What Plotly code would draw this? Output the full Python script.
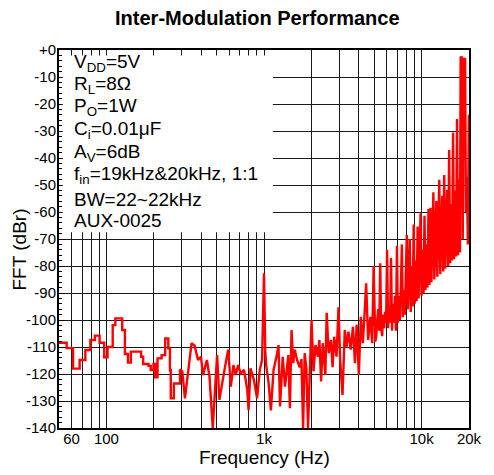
import plotly.graph_objects as go

# ---- data ----
freq_low = [50, 55.9, 61.4, 67.6, 73.5, 79.1, 84.5, 90.5, 96.8, 101.6, 109.6, 113.9,
            126, 131, 137, 143, 166, 171, 185, 191, 199, 204, 211, 224, 236, 244,
            247, 253, 256, 265, 268, 281, 293]
dbr_low = [-108.4, -110.4, -118, -114.8, -111.1, -107.4, -105.8, -108.4, -113.8, -110,
           -101.9, -99.4, -103.7, -112.6, -115.8, -111.7, -113.6, -116.3, -117, -118.5,
           -116.3, -121.2, -114.2, -113, -106.8, -106.8, -110.5, -118.6, -129, -129,
           -123.5, -123.5, -118.2]

freq_high = [293, 303, 315, 330, 347, 363, 381, 398, 410, 434, 451, 473, 504, 521, 547,
             573, 593, 616, 640, 662, 685, 711, 747, 783, 798, 821, 863, 904, 940, 972,
             1000, 1019, 1034, 1070, 1106, 1150, 1206, 1236, 1264, 1315, 1359, 1427,
             1460, 1496, 1533, 1569, 1624, 1686, 1728, 1771, 1812, 1857, 1903, 1948,
             2003, 2061, 2122, 2196, 2247, 2303, 2360, 2450, 2500, 2572, 2659, 2725,
             2788, 2886, 2971, 3044, 3150, 3257, 3337, 3435, 3550, 3670, 3777, 3871,
             4000, 4117, 4238, 4361, 4449, 4580, 4738, 4858, 4964,
             5084, 5158, 5233, 5309, 5386, 5464, 5543, 5623, 5705, 5788, 5872, 5957,
             6043, 6131, 6220, 6310, 6402, 6494, 6589, 6683, 6780, 6879, 6978, 7079,
             7182, 7286, 7392, 7499, 7608, 7718, 7830, 7943, 8058, 8175, 8294, 8414,
             8536, 8660, 8785, 8913, 9042, 9173, 9306, 9441, 9578, 9716, 9857, 10000,
             10145, 10292, 10441, 10593, 10746, 10902, 11060, 11220, 11383, 11548,
             11715, 11885, 12057, 12232, 12409, 12589, 12772, 12957, 13145, 13335,
             13529, 13725, 13924, 14125, 14330, 14538, 14749, 14962, 15179, 15399,
             15623, 15849, 16079, 16312, 16548, 16788, 17032, 17278, 17529, 17705,
             18041, 18249, 18487, 18890, 19110, 19387, 19668, 19953]
dbr_high = [-118.2, -119, -129, -118.5, -108.6, -109.5, -114.8, -113.6, -120.4, -114.8,
            -121, -140, -113, -129.6, -121.6, -115.5, -111, -124.7, -116.7, -120.4,
            -116.7, -119.8, -118.5, -125.9, -133.3, -117.9, -122.2, -129, -118.5, -114.8,
            -82.7, -112, -117, -123.5, -133.5, -118.5, -113, -109.3, -132, -113.6,
            -124.7, -113, -132.7, -103.7, -116, -111, -115, -117.5, -114.5, -140,
            -112.3, -118, -140, -117.5, -100, -119, -109.3, -113.6, -107.4, -122.8,
            -108.6, -120.4, -97.3, -112.3, -107.4, -117.5, -106.2, -113.6, -95.3, -115,
            -127.8, -103.7, -109.9, -104.3, -111, -102.5, -116, -101.8, -120.4, -98.8,
            -108.6, -96.3, -86.4, -107.4, -98.8, -108.6, -80,
            -108, -106, -100, -96, -104, -79, -103, -106, -98, -103, -97, -101,
            -74, -103, -95, -101, -77, -104, -94, -101, -91, -104, -72.5, -101,
            -91, -100, -88, -72, -99, -89, -98, -86, -68.5, -96, -82, -70,
            -97, -80, -95, -64.6, -94, -78, -93, -65.4, -92, -76, -60.5, -91,
            -74, -90, -61.4, -89, -72, -88, -58.9, -87, -58.4, -86,
            -69, -52.7, -85, -67, -55.9, -84, -65, -48.1, -83, -63,
            -54, -82, -46.3, -81, -60, -51.9, -80, -37, -79, -57,
            -78, -30.6, -77.5, -52, -76.5, -25.6, -76, -48, -75, -2.8,
            -2.8, -70, -3.3, -3.3, -60, -47, -72, -24]

x_tick_vals = [60, 100, 1000, 10000, 20000]
x_tick_text = ["60", "100", "1k", "10k", "20k"]
x_minor_vals = [70, 80, 90, 200, 300, 400, 500, 600, 700, 800, 900,
                2000, 3000, 4000, 5000, 6000, 7000, 8000, 9000]
y_tick_vals = [0, -10, -20, -30, -40, -50, -60, -70, -80, -90, -100, -110, -120, -130, -140]
y_tick_text = ["+0", "-10", "-20", "-30", "-40", "-50", "-60", "-70", "-80", "-90",
               "-100", "-110", "-120", "-130", "-140"]

notes = ["V<sub>DD</sub>=5V", "R<sub>L</sub>=8Ω", "P<sub>O</sub>=1W",
         "C<sub>i</sub>=0.01μF", "A<sub>V</sub>=6dB",
         "f<sub>in</sub>=19kHz&20kHz, 1:1", "BW=22~22kHz", "AUX-0025"]
note_y = [-4.9, -13.0, -21.1, -29.6, -38.1, -46.3, -55.2, -63.0]

FONT = "Liberation Sans, Arial, sans-serif"
GRID = "#1a1a1a"

fig = go.Figure()
fig.add_trace(go.Scatter(x=freq_low, y=dbr_low, mode="lines",
                         line=dict(color="#ff0000", width=2.4, shape="hv"),
                         showlegend=False, hoverinfo="skip"))
fig.add_trace(go.Scatter(x=freq_high, y=dbr_high, mode="lines",
                         line=dict(color="#ff0000", width=2.4),
                         showlegend=False, hoverinfo="skip"))

# page body adds an 8px offset, so the figure is 8px smaller on each leading side
fig.update_layout(
    width=486, height=467,
    margin=dict(l=51, r=19, t=42, b=47),
    paper_bgcolor="white", plot_bgcolor="white",
    font=dict(family=FONT, color="black"),
    title=dict(text="<b>Inter-Modulation Performance</b>", x=0.513, y=0.979,
               xref="container", yref="container", xanchor="center", yanchor="middle",
               font=dict(size=20, family=FONT, color="black")),
    xaxis=dict(type="log", range=[1.69897, 4.30103],
               tickmode="array", tickvals=x_tick_vals, ticktext=x_tick_text,
               ticks="", ticklabelstandoff=-4, showgrid=True, gridcolor=GRID, gridwidth=1,
               minor=dict(tickmode="array", tickvals=x_minor_vals, showgrid=True,
                          gridcolor=GRID, gridwidth=1, ticks=""),
               showline=True, linecolor="black", linewidth=2, mirror=True,
               zeroline=False, tickfont=dict(size=15, family=FONT, color="black")),
    yaxis=dict(range=[-140, 0], tickmode="array", tickvals=y_tick_vals, ticktext=y_tick_text,
               ticks="inside", ticklen=6, tickwidth=1, tickcolor="black",
               ticklabelstandoff=-2,
               showgrid=True, gridcolor=GRID, gridwidth=1,
               minor=dict(dtick=2, tick0=0, ticks="inside", ticklen=3, tickwidth=1,
                          tickcolor="black", showgrid=False),
               showline=True, linecolor="black", linewidth=2, mirror=True,
               zeroline=False, tickfont=dict(size=15, family=FONT, color="black")),
)

fig.add_shape(type="rect", xref="paper", yref="y", x0=0.009, x1=0.5216, y0=-67.5, y1=-2,
              fillcolor="white", line=dict(width=0), layer="above")

for txt, yy in zip(notes, note_y):
    fig.add_annotation(text=txt, xref="paper", yref="y", x=0.031, y=yy,
                       xanchor="left", yanchor="middle", showarrow=False,
                       font=dict(size=19, family=FONT, color="black"))

fig.add_annotation(text="Frequency (Hz)", xref="paper", yref="paper", x=0.5, y=-0.079,
                   xanchor="center", yanchor="middle", showarrow=False,
                   font=dict(size=19, family=FONT, color="black"))
fig.add_annotation(text="FFT (dBr)", xref="paper", yref="paper", x=-0.0962, y=0.471,
                   xanchor="center", yanchor="middle", showarrow=False, textangle=-90,
                   font=dict(size=19, family=FONT, color="black"))

fig.write_html("out.html")
